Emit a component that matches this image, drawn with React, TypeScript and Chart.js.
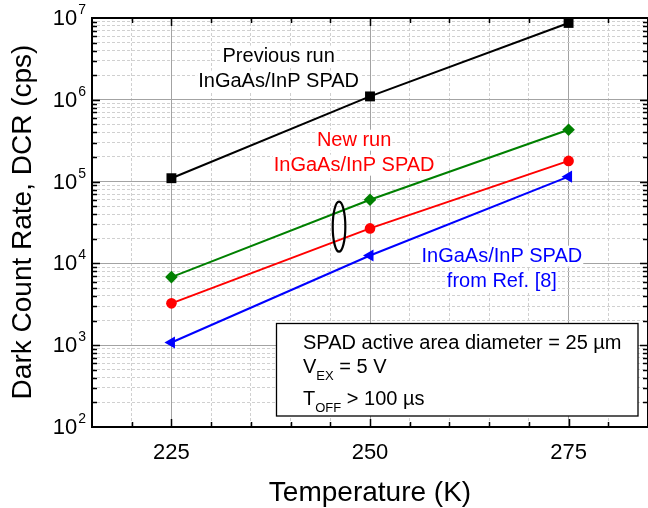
import React, { useEffect, useRef } from "react";
import { Chart, registerables } from "chart.js";

Chart.register(...registerables);

// ---------------- data ----------------
const temperatures = [225, 250, 275];
const previousRunDCR = [1.1e5, 1.1e6, 8.7e6];
const newRunGreenDCR = [6.8e3, 6.0e4, 4.3e5];
const newRunRedDCR = [3.25e3, 2.68e4, 1.79e5];
const refEightDCR = [1.08e3, 1.25e4, 1.15e5];

const xMin = 215;
const xMax = 285;
const xTickValues = [215, 220, 225, 230, 235, 240, 245, 250, 255, 260, 265, 270, 275, 280, 285];
const xMajorTicks = [225, 250, 275];
const xTickLabels = ["225", "250", "275"];

const yMin = 1e2;
const yMax = 1e7;
const yDecadeExponents = [2, 3, 4, 5, 6, 7];
const yTickValues: number[] = [];
for (let e = 2; e < 7; e++) for (let m = 1; m <= 9; m++) yTickValues.push(m * Math.pow(10, e));
yTickValues.push(1e7);

const xTitle = "Temperature (K)";
const yTitle = "Dark Count Rate, DCR (cps)";

// annotations (anchor in data coordinates: centre x, first baseline y)
const annotations = [
  { x: 238.5, y: 2.93e6, color: "#000000", lines: ["Previous run", "InGaAs/InP SPAD"] },
  { x: 248.0, y: 2.75e5, color: "#ff0000", lines: ["New run", "InGaAs/InP SPAD"] },
  { x: 266.6, y: 1.05e4, color: "#0000ff", lines: ["InGaAs/InP SPAD", "from Ref. [8]"] },
];
const ellipseCenter = { x: 246.1, y: 2.81e4 };

const FONT = '"Liberation Sans", Arial, Helvetica, sans-serif';

const isDecade = (v: number) => Math.abs(Math.log10(v) - Math.round(Math.log10(v))) < 1e-9;

const decorPlugin = {
  id: "decor",
  beforeDatasetsDraw(chart: any) {
    const { ctx, scales } = chart;
    const xs = scales.x;
    const ys = scales.y;
    ctx.save();
    ctx.font = `20px ${FONT}`;
    ctx.textAlign = "center";
    ctx.textBaseline = "alphabetic";
    for (const a of annotations) {
      const cx = xs.getPixelForValue(a.x);
      const by = ys.getPixelForValue(a.y);
      a.lines.forEach((t, i) => {
        const yy = by + i * 25;
        const w = ctx.measureText(t).width;
        ctx.fillStyle = "#ffffff";
        ctx.fillRect(cx - w / 2 - 1, yy - 16, w + 2, 21);
        ctx.fillStyle = a.color;
        ctx.fillText(t, cx, yy);
      });
    }
    ctx.restore();
  },
  afterDatasetsDraw(chart: any) {
    const { ctx, scales, chartArea } = chart;
    const xs = scales.x;
    const ys = scales.y;
    const { left, right, top, bottom } = chartArea;

    // ellipse marking the new-run curves
    ctx.save();
    ctx.beginPath();
    ctx.ellipse(xs.getPixelForValue(ellipseCenter.x), ys.getPixelForValue(ellipseCenter.y), 6.3, 25, 0, 0, Math.PI * 2);
    ctx.lineWidth = 2.2;
    ctx.strokeStyle = "#000";
    ctx.stroke();
    ctx.restore();

    // info box
    ctx.save();
    const bx = 276.5, byTop = 323.5, bw = 361.5, bh = 92.5;
    ctx.fillStyle = "#fff";
    ctx.fillRect(bx, byTop, bw, bh);
    ctx.strokeStyle = "#000";
    ctx.lineWidth = 1.3;
    ctx.strokeRect(bx, byTop, bw, bh);
    ctx.fillStyle = "#000";
    ctx.textAlign = "left";
    ctx.textBaseline = "alphabetic";
    const tx = 303;
    ctx.font = `20px ${FONT}`;
    ctx.fillText("SPAD active area diameter = 25 \u00b5m", tx, 349);
    // V_EX = 5 V
    let cx = tx;
    ctx.fillText("V", cx, 373);
    cx += ctx.measureText("V").width;
    ctx.font = `13px ${FONT}`;
    ctx.fillText("EX", cx, 380);
    cx += ctx.measureText("EX").width;
    ctx.font = `20px ${FONT}`;
    ctx.fillText(" = 5 V", cx, 373);
    // T_OFF > 100 us
    cx = tx;
    ctx.fillText("T", cx, 405);
    cx += ctx.measureText("T").width;
    ctx.font = `13px ${FONT}`;
    ctx.fillText("OFF", cx, 412);
    cx += ctx.measureText("OFF").width;
    ctx.font = `20px ${FONT}`;
    ctx.fillText(" > 100 \u00b5s", cx, 405);
    ctx.restore();

    // axis frame
    ctx.save();
    ctx.strokeStyle = "#000";
    ctx.lineWidth = 2;
    ctx.strokeRect(left, top, right - left, bottom - top);

    // ticks
    ctx.lineWidth = 1.5;
    ctx.beginPath();
    for (const v of xTickValues) {
      if (v <= xMin || v >= xMax) continue;
      const px = Math.round(xs.getPixelForValue(v)) + 0.5;
      const len = xMajorTicks.includes(v) ? 8 : 5;
      ctx.moveTo(px, bottom);
      ctx.lineTo(px, bottom - len);
      ctx.moveTo(px, top);
      ctx.lineTo(px, top + len);
    }
    for (const v of yTickValues) {
      if (v <= yMin || v >= yMax) continue;
      const py = Math.round(ys.getPixelForValue(v)) + 0.5;
      const len = isDecade(v) ? 8 : 5;
      ctx.moveTo(left, py);
      ctx.lineTo(left + len, py);
      ctx.moveTo(right, py);
      ctx.lineTo(right - len, py);
    }
    ctx.stroke();

    // x tick labels
    ctx.fillStyle = "#000";
    ctx.font = `22px ${FONT}`;
    ctx.textAlign = "center";
    ctx.textBaseline = "alphabetic";
    xMajorTicks.forEach((v, i) => {
      ctx.fillText(xTickLabels[i], xs.getPixelForValue(v), 459);
    });

    // y tick labels 10^n
    for (const e of yDecadeExponents) {
      const py = ys.getPixelForValue(Math.pow(10, e));
      ctx.font = `14px ${FONT}`;
      const sup = String(e);
      const supW = ctx.measureText(sup).width;
      ctx.font = `22px ${FONT}`;
      const baseW = ctx.measureText("10").width;
      const rightEdge = 86;
      ctx.textAlign = "left";
      ctx.fillText("10", rightEdge - supW - baseW - 1, py + 7);
      ctx.font = `14px ${FONT}`;
      ctx.fillText(sup, rightEdge - supW, py - 4);
    }

    // axis titles
    ctx.font = `28px ${FONT}`;
    ctx.textAlign = "center";
    ctx.fillText(xTitle, (xs.getPixelForValue(225) + xs.getPixelForValue(275)) / 2, 501);
    ctx.save();
    ctx.translate(31, 222);
    ctx.rotate(-Math.PI / 2);
    ctx.fillText(yTitle, 0, 0);
    ctx.restore();
    ctx.restore();
  },
};

function makeSeries(label: string, values: number[], color: string, style: string, radius: number, rotation = 0) {
  return {
    label,
    data: temperatures.map((t, i) => ({ x: t, y: values[i] })),
    borderColor: color,
    backgroundColor: color,
    borderWidth: 2,
    pointStyle: style,
    pointRadius: radius,
    pointRotation: rotation,
    pointBorderWidth: 0,
    pointBackgroundColor: color,
    tension: 0,
  };
}

export default function App() {
  const canvasRef = useRef<HTMLCanvasElement | null>(null);

  useEffect(() => {
    if (!canvasRef.current) return;
    const chart = new Chart(canvasRef.current, {
      type: "line",
      data: {
        datasets: [
          makeSeries("Previous run", previousRunDCR, "#000000", "rect", 7),
          makeSeries("New run (green)", newRunGreenDCR, "#008000", "rectRot", 6.3),
          makeSeries("New run (red)", newRunRedDCR, "#ff0000", "circle", 5.3),
          makeSeries("Ref. [8]", refEightDCR, "#0000ff", "triangle", 7, -90),
        ] as any,
      },
      options: {
        responsive: false,
        animation: false,
        devicePixelRatio: 1,
        layout: { autoPadding: false, padding: { left: 92, right: -2, top: 18, bottom: 81 } },
        plugins: { legend: { display: false }, tooltip: { enabled: false } },
        scales: {
          x: {
            type: "linear",
            min: xMin,
            max: xMax,
            afterBuildTicks: (scale: any) => {
              scale.ticks = xTickValues.map((v) => ({ value: v }));
            },
            ticks: { display: false },
            grid: {
              drawTicks: false,
              lineWidth: 1,
              color: (c: any) => (xMajorTicks.includes(c.tick?.value) ? "#a3a3a3" : "#d0d0d0"),
            },
            border: {
              display: false,
              dash: (c: any) => (xMajorTicks.includes(c.tick?.value) ? [] : [3, 2]),
            },
          },
          y: {
            type: "logarithmic",
            min: yMin,
            max: yMax,
            afterBuildTicks: (scale: any) => {
              scale.ticks = yTickValues.map((v) => ({ value: v, major: isDecade(v) }));
            },
            ticks: { display: false },
            grid: {
              drawTicks: false,
              lineWidth: 1,
              color: (c: any) => (c.tick && isDecade(c.tick.value) ? "#a3a3a3" : "#d0d0d0"),
            },
            border: {
              display: false,
              dash: (c: any) => (c.tick && isDecade(c.tick.value) ? [] : [3, 2]),
            },
          },
        },
      } as any,
      plugins: [decorPlugin as any],
    });
    return () => chart.destroy();
  }, []);

  return (
    <div style={{ position: "fixed", left: 0, top: 0, width: 648, height: 508, background: "#fff", overflow: "hidden" }}>
      <canvas ref={canvasRef} width={648} height={508} style={{ display: "block", width: 648, height: 508 }} />
    </div>
  );
}
